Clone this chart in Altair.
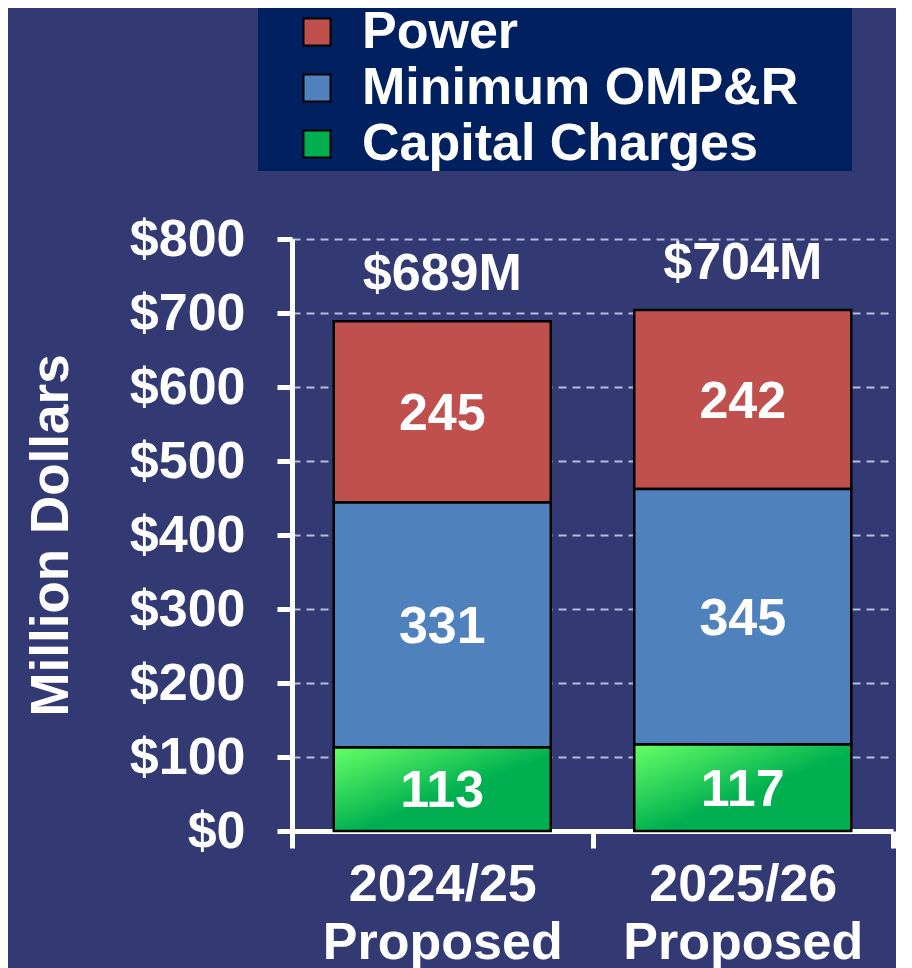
import altair as alt
import pandas as pd

periods = ["2024/25 Proposed", "2025/26 Proposed"]
categories = ["Power", "Minimum OMP&R", "Capital Charges"]
power = [245, 242]
omp = [331, 345]
capital = [113, 117]
cat_colors = ["#c0504d", "#4f81bd", "#00b050"]
stack_order = {"Capital Charges": 0, "Minimum OMP&R": 1, "Power": 2}
y_ticks = [0, 100, 200, 300, 400, 500, 600, 700, 800]

rows = []
for i, p in enumerate(periods):
    for cat, vals in (("Power", power), ("Minimum OMP&R", omp), ("Capital Charges", capital)):
        rows.append({"period": p, "category": cat, "value": vals[i], "o": stack_order[cat]})
df = pd.DataFrame(rows)

FONT = "Liberation Sans"

green_grad = {
    "gradient": "linear", "x1": 0, "y1": 0, "x2": 1, "y2": 1,
    "stops": [
        {"offset": 0, "color": "#66ff66"},
        {"offset": 0.55, "color": "#00b050"},
        {"offset": 1, "color": "#00b050"},
    ],
}

x_axis = alt.Axis(
    labelExpr="split(datum.label, ' ')", labelFont=FONT, labelFontSize=52,
    labelFontWeight="bold", labelColor="white", labelLineHeight=58,
    labelPadding=11, labelAngle=0, labelLimit=1000, tickBand="extent",
    tickSize=17, tickWidth=5, tickColor="white", domainColor="white",
    domainWidth=5, grid=False,
)
y_axis = alt.Axis(
    values=y_ticks, labelExpr="'$' + datum.value", labelFont=FONT,
    labelFontSize=52, labelFontWeight="bold", labelColor="white",
    labelPadding=32, tickSize=15, tickWidth=5, tickColor="white",
    domainColor="white", domainWidth=5, grid=True, gridColor="#b8bcdc",
    gridDash=[8, 6], gridWidth=2, titleFont=FONT,
    titleFontSize=53, titleFontWeight="bold", titleColor="white",
    titlePadding=51,
)
x_scale = alt.Scale(paddingInner=0, paddingOuter=0)
y_scale = alt.Scale(domain=[0, 800], nice=False)
Y_TITLE = "Million Dollars"

base = alt.Chart(df)

bars = base.mark_bar(width=217, stroke="black", strokeWidth=2.5).encode(
    x=alt.X("period:N", sort=periods, title=None, scale=x_scale, axis=x_axis),
    y=alt.Y("value:Q", stack="zero", scale=y_scale, axis=y_axis, title=Y_TITLE),
    color=alt.condition(
        "datum.category == 'Capital Charges'",
        alt.value(green_grad),
        alt.Color(
            "category:N",
            scale=alt.Scale(domain=categories, range=cat_colors),
            legend=alt.Legend(
                orient="none", legendX=-34, legendY=-234, title=None,
                fillColor="#002060", padding=1, labelFont=FONT, labelFontSize=52,
                labelFontWeight="bold", labelColor="white", labelLimit=2000,
                symbolType="square", symbolSize=729, symbolStrokeColor="black",
                symbolStrokeWidth=2, symbolOffset=32, labelOffset=19,
                rowPadding=4, labelExpr="datum.label + ' \u2800'",
            ),
        ),
    ),
    order=alt.Order("o:Q"),
)

seg_text = base.transform_stack(
    stack="value", groupby=["period"], sort=[alt.SortField("o", order="ascending")],
    as_=["y0", "y1"],
).transform_calculate(mid="(datum.y0 + datum.y1) / 2").mark_text(
    font=FONT, fontSize=52, fontWeight="bold", color="white", baseline="middle", dy=2
).encode(
    x=alt.X("period:N", sort=periods, title=None, scale=x_scale, axis=x_axis),
    y=alt.Y("mid:Q", scale=y_scale, axis=y_axis, title=Y_TITLE),
    text="value:Q",
)

tot_text = base.transform_aggregate(
    total="sum(value)", groupby=["period"]
).transform_calculate(lbl="'$' + datum.total + 'M'").mark_text(
    font=FONT, fontSize=52, fontWeight="bold", color="white",
    baseline="alphabetic", dy=-31
).encode(
    x=alt.X("period:N", sort=periods, title=None, scale=x_scale, axis=x_axis),
    y=alt.Y("total:Q", scale=y_scale, axis=y_axis, title=Y_TITLE),
    text="lbl:N",
)

chart = alt.layer(bars, seg_text, tot_text).properties(
    width=601, height=592,
    background="#333a73",
    padding={"left": 17, "top": -3, "right": 0, "bottom": 0},
).configure_view(stroke=None)

chart.save("out.html", embed_options={"renderer": "svg", "actions": False})
